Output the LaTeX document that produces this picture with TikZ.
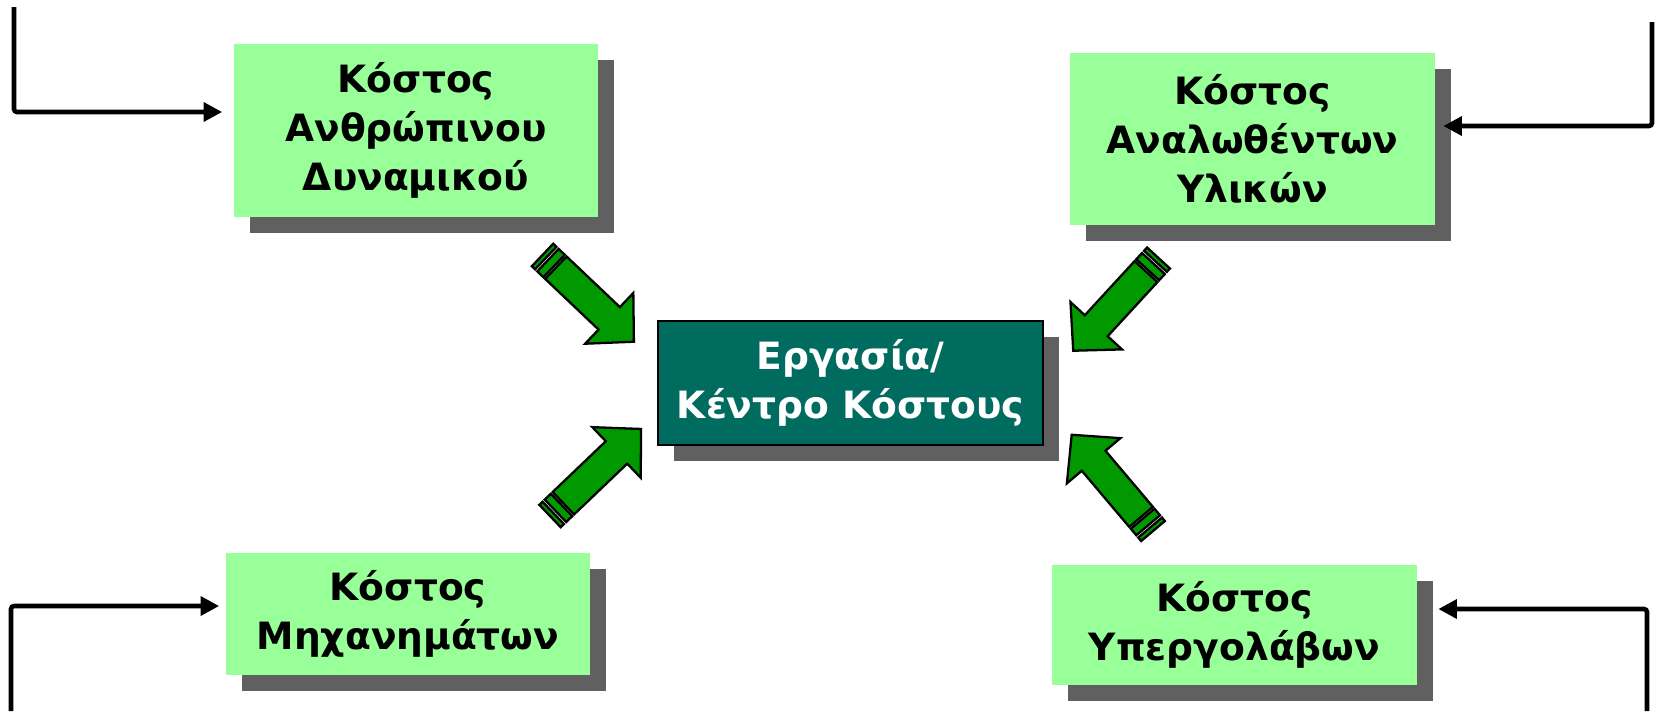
\documentclass[tikz,border=0pt]{standalone}
\usepackage{fontspec}
\setmainfont{DejaVu Sans}
\newfontfamily\boxfont{DejaVu Sans}[UprightFont={* Bold}]
\usetikzlibrary{arrows.meta, shadows}
\definecolor{boxgreen}{RGB}{153,255,153}
\definecolor{shadowgray}{RGB}{96,96,96}
\definecolor{centerteal}{RGB}{0,108,96}
\definecolor{arrowgreen}{RGB}{0,153,0}
\tikzset{
    >={Triangle[length=0.37cm, width=0.37cm]}, % solid heads for the feed lines
    boxshadow/.style={general shadow={fill=shadowgray, shadow xshift=0.32cm, shadow yshift=-0.32cm}},
    costbox/.style={boxshadow, fill=boxgreen, minimum width=7.3cm, align=center,
        font=\boxfont\fontsize{21.4}{28}\selectfont}, % the four cost boxes
    centerbox/.style={boxshadow, fill=centerteal, draw=black, line width=1.2pt, text=white,
        minimum width=7.7cm, minimum height=2.48cm, align=center,
        font=\boxfont\fontsize{21.4}{28}\selectfont}, % the job / cost centre
    feed/.style={->, line width=2.6pt, rounded corners=0.06cm}, % incoming lines at the edges
    arrowpart/.style={fill=arrowgreen, draw=black, line width=1.3pt, line join=miter},
    pics/pusharrow/.style={code={
        \draw[arrowpart] (0,-15.5) rectangle (4.5,15.5);
        \draw[arrowpart] (7.5,-15.5) rectangle (16,15.5);
        \draw[arrowpart] (18.5,-15.5) -- (92,-15.5) -- (92,-35) -- (126,0) -- (92,35) -- (92,15.5) -- (18.5,15.5) -- cycle;
    }},
}
\begin{document}
\begin{tikzpicture}[x=0.02cm, y=-0.02cm]
\useasboundingbox (0,0) rectangle (1655,711);

\node[centerbox] (center) at (850.5,383) {Εργασία/\\Κέντρο Κόστους};
\node[costbox, minimum height=3.46cm] (labour) at (416,130.5) {Κόστος\\Ανθρώπινου\\Δυναμικού};
\node[costbox, minimum height=3.44cm] (material) at (1252.5,139) {Κόστος\\Αναλωθέντων\\Υλικών};
\node[costbox, minimum height=2.44cm] (machine) at (408,614) {Κόστος\\Μηχανημάτων};
\node[costbox, minimum height=2.4cm] (subcon) at (1234.5,625) {Κόστος\\Υπεργολάβων};

% block arrows into the centre
\pic[rotate=-43.5] at (542.5,255) {pusharrow};
\pic[rotate=43.7] at (550,516) {pusharrow};
\pic[rotate=-132.6] at (1158.5,258) {pusharrow};
\pic[rotate=130.2] at (1153,531) {pusharrow};

% feed lines
\coordinate (in1) at (14,7);
\coordinate (in2) at (1652,22);
\coordinate (in3) at (11,711);
\coordinate (in4) at (1647,711);
\draw[feed] (in1) |- ([shift={(-11,-18.5)}]labour.west);
\draw[feed] (in2) |- ([shift={(8,-13)}]material.east);
\draw[feed] (in3) |- ([shift={(-6,-8)}]machine.west);
\draw[feed] (in4) |- ([shift={(21,-16)}]subcon.east);
\end{tikzpicture}
\end{document}
